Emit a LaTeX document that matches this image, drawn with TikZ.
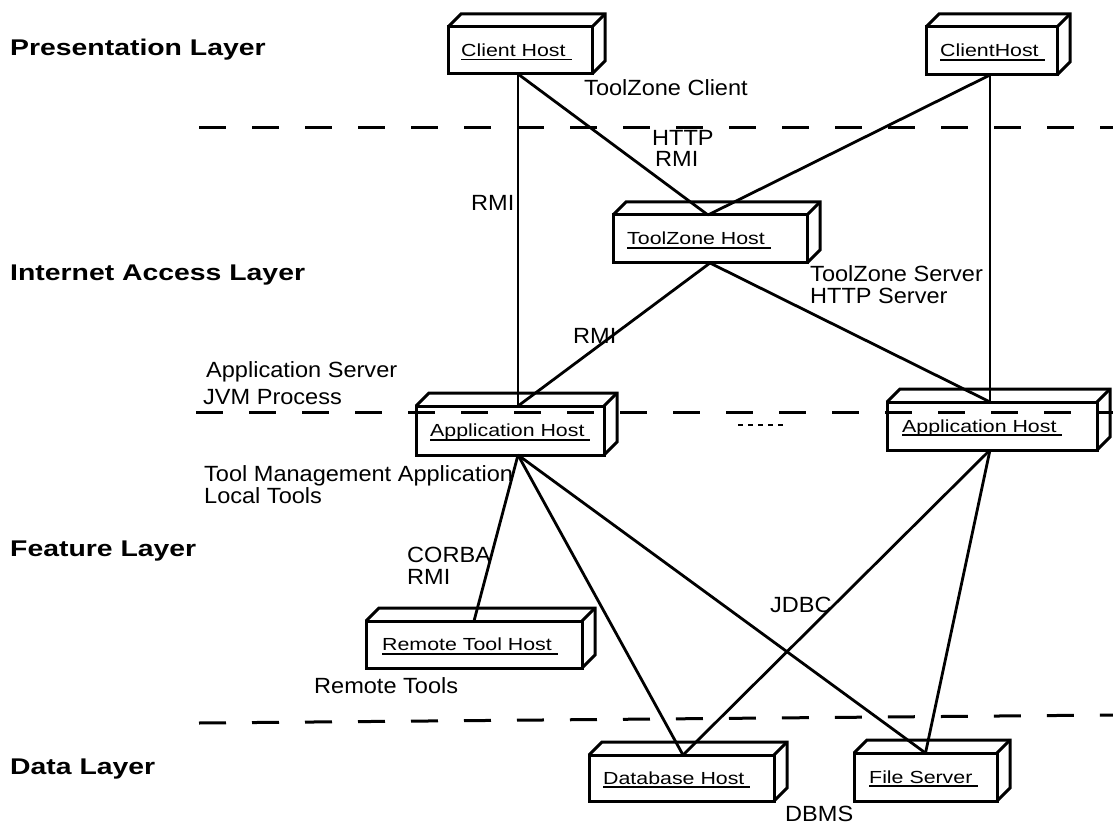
\documentclass[tikz,border=0pt]{standalone}
\usepackage{fontspec}
\setmainfont{Liberation Sans}[FakeStretch=1.07]
\newfontfamily\boxfont{Liberation Sans}[FakeStretch=1.22]
\newfontfamily\layerfont{Liberation Sans}[FakeStretch=1.25]
\newcommand\hostname[1]{\setbox0\hbox{#1\ }\rlap{\rule[-4pt]{\wd0}{1.8pt}}\box0}
\tikzset{
  host/.style={draw, line width=3pt, inner sep=0pt, outer sep=0pt, line join=miter},
  hostedge/.style={line width=3pt, line join=miter},
  hosttext/.style={inner sep=0pt, anchor=base west, font=\boxfont\fontsize{17.5}{20}\selectfont},
  lbl/.style={inner sep=0pt, anchor=base west, font=\fontsize{22}{26}\selectfont},
  layer/.style={inner sep=0pt, anchor=base west, font=\layerfont\bfseries\fontsize{22.7}{26}\selectfont},
  conn/.style={line width=2.8pt},
  sep/.style={line width=3pt, dash pattern=on 27pt off 26pt},
  dots/.style={line width=2.6pt, dash pattern=on 5pt off 5pt}
}
\begin{document}
\begin{tikzpicture}[x=1pt, y=-1pt]
\useasboundingbox (0,0) rectangle (1113,826);

% layer separators
\coordinate (s1a) at (199,128); \coordinate (s1b) at (1113,128);
\coordinate (s2a) at (196,412); \coordinate (s2b) at (1113,412);
\coordinate (s3a) at (199,723); \coordinate (s3b) at (1113,715);
\draw[sep] (s1a) -- (s1b);
\draw[sep] (s2a) -- (s2b);
\draw[sep] (s3a) -- (s3b);

% hosts
\node[host, minimum width=144pt, minimum height=47pt] (ch1) at (520,50.5) {};
\node[host, minimum width=131pt, minimum height=48pt] (ch2) at (991.5,51) {};
\node[host, minimum width=194pt, minimum height=48pt] (tz) at (710,239) {};
\node[host, minimum width=188pt, minimum height=49pt] (ahl) at (510,430.5) {};
\node[host, minimum width=210pt, minimum height=48pt] (ahr) at (992,426) {};
\node[host, minimum width=216pt, minimum height=47pt] (rth) at (474,644.5) {};
\node[host, minimum width=185pt, minimum height=46pt] (dbh) at (681.5,778) {};
\node[host, minimum width=143pt, minimum height=48pt] (fs) at (925.5,777) {};

\foreach \n in {ch1,ch2,tz,ahl,ahr,rth,dbh,fs}{
  \draw[hostedge] (\n.north west) -- ([shift={(13,-13)}]\n.north west)
    -- ([shift={(13,-13)}]\n.north east) -- ([shift={(13,-13)}]\n.south east)
    -- (\n.south east);
  \draw[hostedge] ([shift={(13,-13)}]\n.north east) -- (\n.north east);
}

\node[hosttext] (ch1t) at ([xshift=13pt,yshift=-6pt]ch1.west) {\hostname{Client Host}};
\node[hosttext] (ch2t) at ([xshift=14pt,yshift=-6pt]ch2.west) {\hostname{ClientHost}};
\node[hosttext] (tzt) at ([xshift=14pt,yshift=-6pt]tz.west) {\hostname{ToolZone Host}};
\node[hosttext] (ahlt) at ([xshift=14pt,yshift=-6pt]ahl.west) {\hostname{Application Host}};
\node[hosttext] (ahrt) at ([xshift=15pt,yshift=-6pt]ahr.west) {\hostname{Application Host}};
\node[hosttext] (rtht) at ([xshift=16pt,yshift=-6pt]rth.west) {\hostname{Remote Tool Host}};
\node[hosttext] (dbht) at ([xshift=14pt,yshift=-6pt]dbh.west) {\hostname{Database Host}};
\node[hosttext] (fst) at ([xshift=15pt,yshift=-6pt]fs.west) {\hostname{File Server}};

% connectors
\draw[conn] ([xshift=-2pt]ch1.south) -- ([xshift=8pt]ahl.north);
\draw[conn] ([xshift=-2pt]ch1.south) -- ([xshift=-2pt]tz.north);
\draw[conn] ([xshift=-1.5pt]ch2.south) -- ([xshift=-2pt]tz.north);
\draw[conn] ([xshift=-1.5pt]ch2.south) -- ([xshift=-2pt]ahr.north);
\draw[conn] (tz.south) -- ([xshift=8pt]ahl.north);
\draw[conn] (tz.south) -- ([xshift=-2pt]ahr.north);
\draw[conn] ([xshift=8pt]ahl.south) -- (rth.north);
\draw[conn] ([xshift=8pt]ahl.south) -- ([xshift=1.5pt]dbh.north);
\draw[conn] ([xshift=8pt]ahl.south) -- (fs.north);
\draw[conn] ([xshift=-2pt]ahr.south) -- ([xshift=1.5pt]dbh.north);
\draw[conn] ([xshift=-2pt]ahr.south) -- (fs.north);

% ellipsis between application hosts
\coordinate (e1) at (738,425); \coordinate (e2) at (787,425);
\draw[dots] (e1) -- (e2);

% layer names
\node[layer] (lp) at (10,56) {Presentation Layer};
\node[layer] (li) at (10,280) {Internet Access Layer};
\node[layer] (lf) at (10,556) {Feature Layer};
\node[layer] (ld) at (10,774) {Data Layer};

% labels
\node[lbl] (tzc) at (584,96) {ToolZone Client};
\node[lbl] (http1) at (652,146) {HTTP};
\node[lbl] (rmi1) at (655,167) {RMI};
\node[lbl] (rmi2) at (471,211) {RMI};
\node[lbl] (tzs) at (810,281) {ToolZone Server};
\node[lbl] (https) at (810,303) {HTTP Server};
\node[lbl] (rmi3) at (573,343) {RMI};
\node[lbl] (as) at (206,377) {Application Server};
\node[lbl] (jvm) at (203,404) {JVM Process};
\node[lbl] (tma) at (204,481) {Tool Management Application};
\node[lbl] (lt) at (204,503) {Local Tools};
\node[lbl] (corba) at (407,562) {CORBA};
\node[lbl] (rmi4) at (407,584) {RMI};
\node[lbl] (jdbc) at (770,612) {JDBC};
\node[lbl] (rt) at (314,693) {Remote Tools};
\node[lbl] (dbms) at (785,821) {DBMS};
\end{tikzpicture}
\end{document}
